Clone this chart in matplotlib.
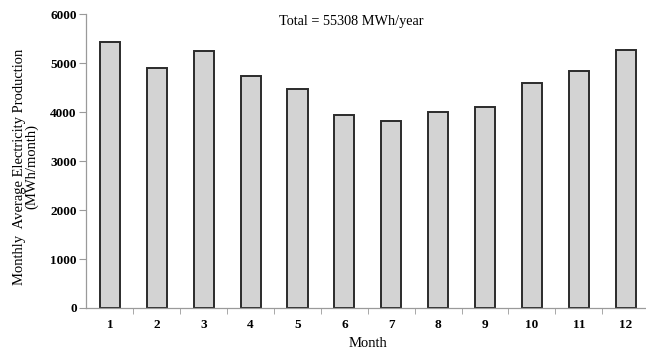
import matplotlib
matplotlib.use("Agg")
import matplotlib.pyplot as plt
import numpy as np

plt.rcParams['font.family'] = ['Liberation Serif', 'DejaVu Serif']

months = [1, 2, 3, 4, 5, 6, 7, 8, 9, 10, 11, 12]
production = [5420, 4895, 5245, 4735, 4470, 3930, 3825, 4000, 4105, 4590, 4830, 5260]
total_label = "Total = 55308 MWh/year"

fig = plt.figure(figsize=(6.46, 3.52), dpi=100)
ax = fig.add_axes([0.1339, 0.125, 0.871, 0.835])

x = np.arange(len(months))
ax.bar(x, production, width=0.43, color='#d3d3d3', edgecolor='#2b2b2b', linewidth=1.4)

ax.set_xlim(-0.5, len(months) - 0.5)
ax.set_ylim(0, 6000)
ax.set_yticks(range(0, 6001, 1000))
ax.set_yticklabels([str(v) for v in range(0, 6001, 1000)], fontweight='bold', fontsize=9.5)

# month labels centred under bars, tick marks between bars
ax.set_xticks(x)
ax.set_xticklabels([str(m) for m in months], fontweight='bold', fontsize=9.5)
ax.tick_params(axis='x', length=0, pad=8)
ax.set_xticks(np.arange(0.5, len(months) - 0.5), minor=True)
ax.tick_params(axis='x', which='minor', length=4, color='#9a9a9a', direction='out')
ax.tick_params(axis='y', length=5, color='#9a9a9a', direction='out', pad=2)

for side in ['top', 'right']:
    ax.spines[side].set_visible(False)
for side in ['left', 'bottom']:
    ax.spines[side].set_color('#9a9a9a')
    ax.spines[side].set_linewidth(0.9)

ax.set_xlabel("Month", fontsize=10.5, labelpad=4)
ax.set_ylabel("Monthly  Average Electricity Production\n(MWh/month)", fontsize=10.5,
              linespacing=0.95)
ax.yaxis.set_label_coords(-0.085, 0.48)
fig.text(351 / 646, 1 - 25 / 352, total_label, ha='center', va='baseline', fontsize=10.3)

fig.savefig("out.png", dpi=100)
